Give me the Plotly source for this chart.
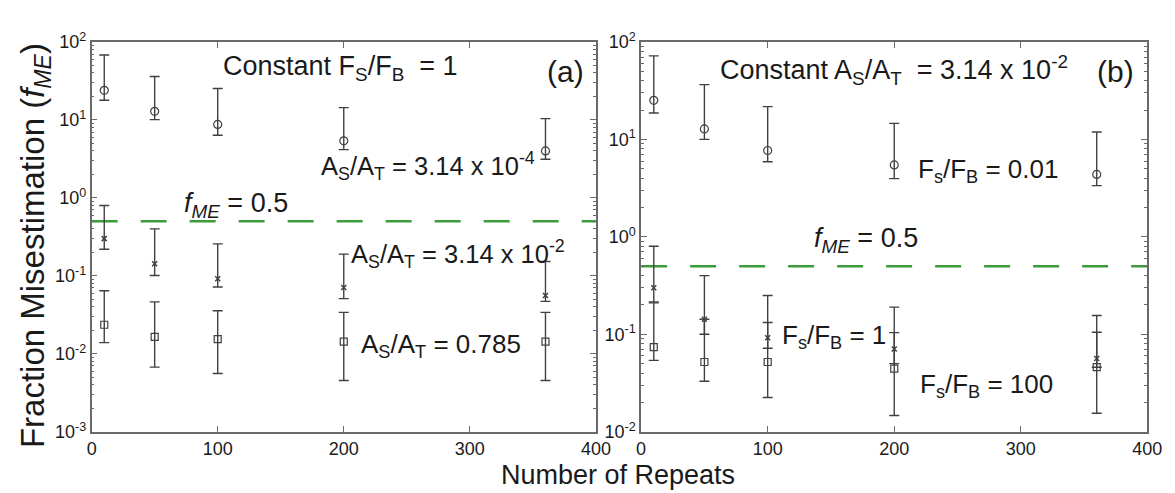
import plotly.graph_objects as go

W, H = 1175, 493

# ---------------- data ----------------
repeats = [10, 50, 100, 200, 360]

# panel (a): constant Fs/Fb = 1
a_circ = [24.0, 12.9, 8.75, 5.4, 4.0]
a_circ_hi = [68.0, 36.0, 25.3, 14.4, 10.4]
a_circ_lo = [17.9, 10.1, 6.35, 4.16, 3.13]

a_cross = [0.30, 0.143, 0.092, 0.071, 0.056]
a_cross_hi = [0.80, 0.40, 0.257, 0.19, 0.153]
a_cross_lo = [0.219, 0.101, 0.072, 0.051, 0.047]

a_sq = [0.0236, 0.0165, 0.0154, 0.0143, 0.0143]
a_sq_hi = [0.0645, 0.0464, 0.0357, 0.034, 0.034]
a_sq_lo = [0.0139, 0.00675, 0.0056, 0.00455, 0.00455]

# panel (b): constant As/At = 3.14e-2
b_circ = [25.2, 12.8, 7.7, 5.47, 4.37]
b_circ_hi = [72.0, 36.5, 21.7, 14.6, 11.9]
b_circ_lo = [18.7, 10.0, 5.9, 3.96, 3.36]

b_cross = [0.30, 0.143, 0.092, 0.0708, 0.0565]
b_cross_hi = [0.80, 0.40, 0.25, 0.19, 0.156]
b_cross_lo = [0.215, 0.10, 0.072, 0.050, 0.046]

b_sq = [0.074, 0.052, 0.052, 0.0444, 0.046]
b_sq_hi = [0.21, 0.143, 0.132, 0.104, 0.105]
b_sq_lo = [0.054, 0.033, 0.0225, 0.0147, 0.0155]

threshold = 0.5
x_ticks = [0, 100, 200, 300, 400]
a_yticks = [1e-3, 1e-2, 1e-1, 1e0, 1e1, 1e2]
a_ytext = ["10<sup>-3</sup>", "10<sup>-2</sup>", "10<sup>-1</sup>", "10<sup>0</sup>", "10<sup>1</sup>", "10<sup>2</sup>"]
b_yticks = [1e-2, 1e-1, 1e0, 1e1, 1e2]
b_ytext = ["10<sup>-2</sup>", "10<sup>-1</sup>", "10<sup>0</sup>", "10<sup>1</sup>", "10<sup>2</sup>"]

# minor log ticks (2..9 within each decade)
a_minor = [m * d for d in a_yticks[:-1] for m in range(2, 10)]
b_minor = [m * d for d in b_yticks[:-1] for m in range(2, 10)]

# ---------------- styling ----------------
FONT = "Liberation Sans, Arial, sans-serif"
INK = "#1a1a1a"
MARK = "#404040"
AXC = "#6a6a6a"
GREEN = "#3c9c3c"

fig = go.Figure()


def add_series(xa, ya, vals, hi, lo, symbol, size, lw):
    fig.add_trace(go.Scatter(
        x=repeats, y=vals, mode="markers", xaxis=xa, yaxis=ya,
        marker=dict(symbol=symbol, size=size, color=MARK,
                    line=dict(color=MARK, width=lw)),
        error_y=dict(type="data", symmetric=False,
                     array=[h - v for h, v in zip(hi, vals)],
                     arrayminus=[v - l for v, l in zip(vals, lo)],
                     color=MARK, thickness=1.4, width=5),
        showlegend=False, cliponaxis=False,
    ))


for xa, ya in [("x", "y"), ("x2", "y2")]:
    fig.add_trace(go.Scatter(
        x=[0, 400], y=[threshold, threshold], mode="lines", xaxis=xa, yaxis=ya,
        line=dict(color=GREEN, width=2.5, dash="26px,23px"), showlegend=False,
    ))

add_series("x", "y", a_circ, a_circ_hi, a_circ_lo, "circle-open", 8, 1.2)
add_series("x", "y", a_cross, a_cross_hi, a_cross_lo, "x-thin-open", 5, 1.5)
add_series("x", "y", a_sq, a_sq_hi, a_sq_lo, "square-open", 7, 1.2)
add_series("x2", "y2", b_circ, b_circ_hi, b_circ_lo, "circle-open", 8, 1.2)
add_series("x2", "y2", b_cross, b_cross_hi, b_cross_lo, "x-thin-open", 5, 1.5)
add_series("x2", "y2", b_sq, b_sq_hi, b_sq_lo, "square-open", 7, 1.2)

ytop, ybot = 1 - 23 / H, 1 - 431 / H

xcommon = dict(range=[0, 400], tickvals=x_ticks, ticks="inside", ticklen=6,
               tickcolor=AXC, showline=True, linecolor=AXC, linewidth=1.5,
               mirror="ticks", showgrid=False, zeroline=False,
               tickfont=dict(family=FONT, size=18, color=INK))


def ymain(rng, tv, tt, mv):
    return dict(type="log", range=rng, tickvals=tv, ticktext=tt,
                ticks="inside", ticklen=6, tickcolor=AXC, tickwidth=1,
                showline=True, linecolor=AXC, linewidth=1.5, mirror=True,
                showgrid=False, zeroline=False,
                minor=dict(tickmode="array", tickvals=mv, ticks="inside", ticklen=3,
                           tickwidth=1, tickcolor=AXC, showgrid=False),
                tickfont=dict(family=FONT, size=18, color=INK))


def yside(rng, tv, mv, over, anchor):
    return dict(type="log", range=rng, tickvals=tv, side="right", overlaying=over,
                anchor=anchor, ticks="inside", ticklen=6, tickcolor=AXC, tickwidth=1,
                showline=False, showgrid=False, zeroline=False, showticklabels=False,
                minor=dict(tickmode="array", tickvals=mv, ticks="inside", ticklen=3,
                           tickwidth=1, tickcolor=AXC, showgrid=False))


fig.update_layout(
    width=W, height=H,
    margin=dict(l=0, r=0, t=0, b=0),
    paper_bgcolor="white", plot_bgcolor="white",
    xaxis=dict(domain=[80 / W, 593 / W], anchor="y", **xcommon),
    yaxis=dict(domain=[ybot, ytop], anchor="x", **ymain([-3, 2], a_yticks, a_ytext, a_minor)),
    yaxis3=dict(domain=[ybot, ytop], **yside([-3, 2], a_yticks, a_minor, "y", "x")),
    xaxis2=dict(domain=[639 / W, 1154 / W], anchor="y2", **xcommon),
    yaxis2=dict(domain=[ybot, ytop], anchor="x2", **ymain([-2, 2], b_yticks, b_ytext, b_minor)),
    yaxis4=dict(domain=[ybot, ytop], **yside([-2, 2], b_yticks, b_minor, "y2", "x2")),
)
# invisible anchors so the right-side tick axes are drawn
fig.add_trace(go.Scatter(x=[None], y=[None], xaxis="x", yaxis="y3", showlegend=False, hoverinfo="skip"))
fig.add_trace(go.Scatter(x=[None], y=[None], xaxis="x2", yaxis="y4", showlegend=False, hoverinfo="skip"))


def note(text, px, py, size=26, angle=0):
    fig.add_annotation(text=text, x=px / W, y=1 - py / H, xref="paper", yref="paper",
                       xanchor="center", yanchor="middle", showarrow=False,
                       textangle=angle, font=dict(family=FONT, size=size, color=INK))


# panel (a)
note("Constant F<sub>S</sub>/F<sub>B</sub>  = 1", 333, 50, size=27)
note("(a)", 562, 54, size=30)
note("A<sub>S</sub>/A<sub>T</sub> = 3.14 x 10<sup>-4</sup>", 422, 153, size=25.5)
note("<i>f</i><sub><i>ME</i></sub> = 0.5", 227, 194, size=27)
note("A<sub>S</sub>/A<sub>T</sub> = 3.14 x 10<sup>-2</sup>", 453, 245, size=25.5)
note("A<sub>S</sub>/A<sub>T</sub> = 0.785", 435, 341)

# panel (b)
note("Constant A<sub>S</sub>/A<sub>T</sub>  = 3.14 x 10<sup>-2</sup>", 896, 52, size=27)
note("(b)", 1122, 54, size=30)
note("F<sub>s</sub>/F<sub>B</sub> = 0.01", 992, 158)
note("<i>f</i><sub><i>ME</i></sub> = 0.5", 868, 230, size=27)
note("F<sub>s</sub>/F<sub>B</sub> = 1", 835, 331)
note("F<sub>s</sub>/F<sub>B</sub> = 100", 990, 383)

# axis titles
note("Number of Repeats", 615, 476, size=27)
note("Fraction Misestimation (<i>f</i><sub><i>ME</i></sub>)", 23, 236, size=33, angle=-90)

fig.write_html("out.html")
